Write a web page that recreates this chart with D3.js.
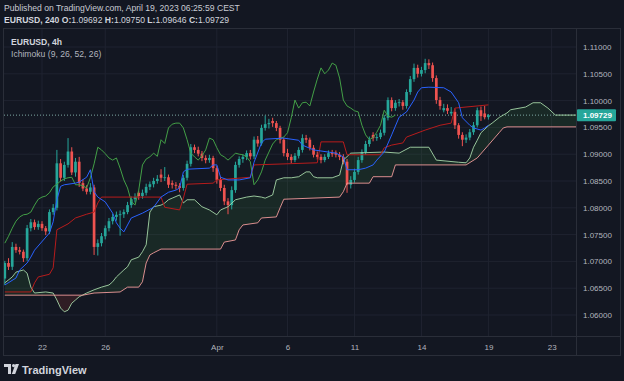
<!DOCTYPE html>
<html><head><meta charset="utf-8">
<script src="https://cdn.jsdelivr.net/npm/d3@7"></script>
<style>
html,body{margin:0;padding:0;background:#131722;overflow:hidden;}
svg{display:block;font-family:"Liberation Sans",Arial,sans-serif;}
</style></head><body>
<svg id="chart" width="624" height="381"></svg>
<script>
// ---------------- DATA ----------------
// 4h candles, index 0 = first visible bar (Mar 20/21), index 130 = Apr 19 03:00
const openP = [1.0668,1.0697,1.0690,1.0727,1.0721,1.0718,1.0706,1.0762,1.0773,1.0764,
1.0770,1.0762,1.0756,1.0792,1.0800,1.0883,1.0856,1.0880,1.0905,1.0866,
1.0886,1.0846,1.0836,1.0830,1.0838,1.0727,1.0734,1.0747,1.0762,1.0775,
1.0783,1.0787,1.0788,1.0792,1.0805,1.0816,1.0828,1.0822,1.0828,1.0839,
1.0844,1.0850,1.0862,1.0856,1.0857,1.0846,1.0843,1.0841,1.0837,1.0856,
1.0882,1.0913,1.0908,1.0901,1.0893,1.0889,1.0893,1.0874,1.0852,1.0837,
1.0812,1.0805,1.0833,1.0880,1.0891,1.0895,1.0902,1.0896,1.0927,1.0920,
1.0949,1.0956,1.0962,1.0958,1.0949,1.0927,1.0902,1.0895,1.0889,1.0897,
1.0908,1.0930,1.0927,1.0912,1.0899,1.0895,1.0889,1.0895,1.0902,1.0903,
1.0899,1.0895,1.0886,1.0843,1.0852,1.0867,1.0889,1.0904,1.0919,1.0936,
1.0930,1.0932,1.0940,1.0968,1.1001,1.0986,1.0996,1.0997,1.0990,1.1016,
1.1040,1.1061,1.1050,1.1057,1.1070,1.1066,1.1042,1.1001,1.0982,1.0986,
1.0976,1.0979,1.0954,1.0936,1.0927,1.0931,1.0941,1.0954,1.0982,1.0976,
1.09692];
const highP = [1.0701,1.0706,1.0736,1.0733,1.0727,1.0722,1.0768,1.0779,1.0778,1.0776,
1.0775,1.0766,1.0797,1.0807,1.0908,1.0891,1.0886,1.0930,1.0913,1.0893,
1.0895,1.0853,1.0842,1.0846,1.0843,1.0741,1.0753,1.0767,1.0781,1.0789,
1.0793,1.0795,1.0797,1.0811,1.0821,1.0827,1.0832,1.0834,1.0845,1.0849,
1.0856,1.0861,1.0872,1.0876,1.0862,1.0851,1.0848,1.0846,1.0861,1.0888,
1.0919,1.0918,1.0914,1.0906,1.0898,1.0899,1.0897,1.0878,1.0857,1.0843,
1.0818,1.0840,1.0886,1.0896,1.0900,1.0907,1.0908,1.0933,1.0934,1.0955,
1.0972,1.0966,1.0968,1.0962,1.0953,1.0931,1.0910,1.0900,1.0902,1.0913,
1.0937,1.0936,1.0931,1.0917,1.0905,1.0900,1.0900,1.0907,1.0908,1.0907,
1.0904,1.0900,1.0891,1.0859,1.0873,1.0895,1.0909,1.0925,1.0933,1.0941,
1.0938,1.0946,1.0973,1.1006,1.1006,1.1001,1.1003,1.1001,1.1021,1.1046,
1.1069,1.1067,1.1063,1.1078,1.1077,1.1071,1.1047,1.1007,1.0994,1.0993,
1.0988,1.0985,1.0958,1.0941,1.0937,1.0947,1.0960,1.0987,1.0989,1.0990,
1.09750];
const lowP = [1.0656,1.0684,1.0684,1.0716,1.0713,1.0699,1.0701,1.0756,1.0759,1.0759,
1.0757,1.0749,1.0751,1.0787,1.0795,1.0849,1.0850,1.0875,1.0861,1.0858,
1.0839,1.0831,1.0825,1.0825,1.0712,1.0711,1.0728,1.0741,1.0756,1.0769,
1.0776,1.0748,1.0781,1.0788,1.0800,1.0810,1.0815,1.0817,1.0823,1.0833,
1.0838,1.0845,1.0848,1.0850,1.0837,1.0836,1.0834,1.0829,1.0832,1.0851,
1.0877,1.0902,1.0896,1.0887,1.0883,1.0884,1.0867,1.0845,1.0831,1.0805,
1.0788,1.0797,1.0828,1.0875,1.0884,1.0889,1.0890,1.0891,1.0914,1.0916,
1.0944,1.0948,1.0951,1.0943,1.0920,1.0896,1.0889,1.0883,1.0885,1.0892,
1.0903,1.0921,1.0907,1.0894,1.0890,1.0883,1.0885,1.0891,1.0895,1.0894,
1.0889,1.0881,1.0828,1.0836,1.0847,1.0862,1.0884,1.0899,1.0914,1.0924,
1.0925,1.0928,1.0935,1.0963,1.0980,1.0981,1.0989,1.0983,1.0985,1.1011,
1.1035,1.1043,1.1045,1.1051,1.1059,1.1035,1.0994,1.0983,1.0978,1.0975,
1.0972,1.0947,1.0929,1.0915,1.0921,1.0926,1.0936,1.0950,1.0962,1.0965,
1.09646];
const closeP = [1.0697,1.0690,1.0727,1.0721,1.0718,1.0706,1.0762,1.0773,1.0764,1.0770,
1.0762,1.0756,1.0792,1.0800,1.0883,1.0856,1.0880,1.0905,1.0866,1.0886,
1.0846,1.0836,1.0830,1.0838,1.0727,1.0734,1.0747,1.0762,1.0775,1.0783,
1.0787,1.0788,1.0792,1.0805,1.0816,1.0820,1.0822,1.0828,1.0839,1.0844,
1.0850,1.0854,1.0856,1.0857,1.0843,1.0843,1.0841,1.0837,1.0856,1.0882,
1.0913,1.0908,1.0901,1.0893,1.0889,1.0893,1.0874,1.0852,1.0837,1.0812,
1.0805,1.0833,1.0880,1.0891,1.0895,1.0902,1.0896,1.0927,1.0920,1.0949,
1.0956,1.0958,1.0958,1.0949,1.0927,1.0902,1.0895,1.0889,1.0897,1.0908,
1.0930,1.0927,1.0912,1.0899,1.0895,1.0889,1.0895,1.0902,1.0900,1.0899,
1.0895,1.0886,1.0843,1.0852,1.0867,1.0889,1.0904,1.0919,1.0927,1.0930,
1.0932,1.0940,1.0968,1.1001,1.0986,1.0996,1.0997,1.0990,1.1016,1.1040,
1.1061,1.1050,1.1057,1.1070,1.1066,1.1042,1.1001,1.0990,1.0986,1.0981,
1.0979,1.0954,1.0936,1.0927,1.0931,1.0941,1.0954,1.0982,1.0971,1.0969,
1.09729];

// Ichimoku lines: [bar index, price]
const tenkanPts = [[0,1.0656],[3,1.0669],[4,1.0684],[6,1.0697],[7,1.0708],[8,1.0721],[12,1.0753],[13,1.0774],[14,1.0815],[15,1.0840],[16,1.0843],[19,1.0846],[20,1.0848],[22,1.0857],[23,1.0871],[24,1.0830],[25,1.0820],[27,1.0811],[29,1.0790],[30,1.0772],[31,1.0762],[32,1.0755],[34,1.0781],[37,1.0790],[40,1.0801],[42,1.0820],[44,1.0829],[46,1.0833],[47,1.0837],[48,1.0867],[49,1.0872],[55,1.0874],[56,1.0880],[57,1.0880],[58,1.0857],[60,1.0852],[63,1.0852],[66,1.0856],[67,1.0885],[69,1.0921],[70,1.0928],[75,1.0930],[79,1.0926],[80,1.0917],[83,1.0908],[89,1.0902],[91,1.0895],[92,1.0871],[95,1.0871],[97,1.0874],[99,1.0880],[100,1.0889],[102,1.0904],[104,1.0936],[106,1.0969],[108,1.0979],[110,1.1001],[111,1.1016],[112,1.1024],[114,1.1025],[118,1.1024],[120,1.1016],[122,1.0996],[123,1.0968],[125,1.0954],[126,1.0949],[128,1.0945],[129,1.0949],[130,1.0954]];
const kijunPts = [[0,1.0643],[7,1.0643],[8,1.0660],[9,1.0671],[12,1.0676],[13,1.0688],[14,1.0759],[17,1.0770],[19,1.0781],[22,1.0788],[24,1.0792],[25,1.0809],[26,1.0820],[42,1.0820],[43,1.0801],[47,1.0796],[48,1.0818],[49,1.0844],[56,1.0846],[57,1.0852],[66,1.0857],[67,1.0880],[84,1.0884],[85,1.0923],[91,1.0923],[92,1.0899],[101,1.0899],[102,1.0912],[104,1.0917],[107,1.0921],[108,1.0932],[113,1.0945],[117,1.0954],[120,1.0958],[121,1.0986],[130,1.0992]];
const spanAPts = [[0,1.0660],[2,1.0671],[3,1.0680],[5,1.0684],[6,1.0678],[7,1.0652],[8,1.0641],[11,1.0643],[13,1.0641],[14,1.0628],[15,1.0613],[16,1.0606],[17,1.0609],[18,1.0622],[19,1.0628],[20,1.0634],[22,1.0641],[24,1.0647],[26,1.0652],[28,1.0656],[29,1.0662],[30,1.0671],[32,1.0684],[33,1.0690],[34,1.0703],[36,1.0708],[37,1.0718],[38,1.0731],[39,1.0792],[40,1.0802],[42,1.0805],[43,1.0809],[44,1.0815],[45,1.0818],[47,1.0824],[48,1.0809],[49,1.0815],[51,1.0815],[53,1.0802],[55,1.0796],[57,1.0787],[58,1.0796],[60,1.0802],[62,1.0815],[65,1.0820],[67,1.0822],[69,1.0820],[70,1.0818],[72,1.0824],[73,1.0852],[75,1.0856],[77,1.0856],[79,1.0858],[81,1.0867],[82,1.0867],[83,1.0858],[84,1.0856],[88,1.0856],[90,1.0861],[91,1.0889],[93,1.0902],[102,1.0904],[106,1.0902],[109,1.0913],[114,1.0913],[116,1.0889],[122,1.0885],[124,1.0884],[125,1.0893],[126,1.0913],[127,1.0926],[128,1.0940],[130,1.0953],[131,1.0958],[133,1.0969],[135,1.0977],[136,1.0983],[140,1.0988],[142,1.0996],[144,1.0996],[146,1.0986],[148,1.0973],[155,1.0973]];
const spanBPts = [[0,1.0637],[21,1.0637],[24,1.0641],[31,1.0643],[33,1.0652],[36,1.0652],[37,1.0662],[38,1.0697],[39,1.0712],[40,1.0716],[42,1.0723],[58,1.0723],[59,1.0736],[62,1.0740],[63,1.0759],[64,1.0768],[68,1.0772],[69,1.0781],[73,1.0783],[74,1.0800],[75,1.0816],[90,1.0820],[91,1.0830],[92,1.0846],[98,1.0846],[99,1.0858],[104,1.0858],[105,1.0880],[124,1.0880],[127,1.0893],[130,1.0917],[133,1.0941],[134,1.0949],[135,1.0951],[155,1.0951]];
const lagOffset = 25;

const priceTicks = [1.06,1.065,1.07,1.075,1.08,1.085,1.09,1.095,1.10,1.105,1.11];
const timeTickIdx = [10,27,57,76,94,112,130,147];
const timeTickLabels = ["22","26","Apr","6","11","14","19","23"];
const lastPrice = 1.09729;

// ---------------- DRAWING ----------------
const UP="#26a69a", DOWN="#ef5350";
const P={left:4,right:576,top:29,bottom:336};
const svg=d3.select("#chart");
svg.append("rect").attr("width",624).attr("height",381).attr("fill","#131722");

const x=d3.scaleLinear().domain([0,155]).range([4.8,4.8+3.72*155]);
const y=d3.scaleLinear().domain([1.06,1.11]).range([315,47]);

const defs=svg.append("defs");
defs.append("clipPath").attr("id","plotClip").append("rect")
  .attr("x",P.left).attr("y",P.top).attr("width",P.right-P.left).attr("height",P.bottom-P.top);
const areaDown=d3.area().x(d=>x(d[0])).y0(P.bottom+50).y1(d=>y(d[1]));
const areaUp=d3.area().x(d=>x(d[0])).y0(P.top-50).y1(d=>y(d[1]));
defs.append("clipPath").attr("id","aboveB").append("path").attr("d",areaUp(spanBPts));
defs.append("clipPath").attr("id","aboveA").append("path").attr("d",areaUp(spanAPts));

// grid
const grid=svg.append("g");
grid.selectAll(".hg").data(priceTicks).join("line")
  .attr("x1",P.left).attr("x2",P.right).attr("y1",d=>y(d)).attr("y2",d=>y(d))
  .attr("stroke","#1f2330").attr("stroke-width",1);
grid.selectAll(".vg").data(timeTickIdx).join("line")
  .attr("x1",d=>x(d)).attr("x2",d=>x(d)).attr("y1",P.top).attr("y2",P.bottom)
  .attr("stroke","#1f2330").attr("stroke-width",1);

const plot=svg.append("g").attr("clip-path","url(#plotClip)");
// cloud
plot.append("g").attr("clip-path","url(#aboveB)").append("path")
  .attr("d",areaDown(spanAPts)).attr("fill","rgba(67,160,71,0.13)");
plot.append("g").attr("clip-path","url(#aboveA)").append("path")
  .attr("d",areaDown(spanBPts)).attr("fill","rgba(244,67,54,0.13)");

// last price dotted line
plot.append("line").attr("x1",P.left).attr("x2",P.right)
  .attr("y1",y(lastPrice)).attr("y2",y(lastPrice))
  .attr("stroke","#7fa9a4").attr("stroke-width",1).attr("stroke-dasharray","1,2");

// candles
const candles=closeP.map((c,i)=>({i,o:openP[i],h:highP[i],l:lowP[i],c}));
const gc=plot.append("g");
gc.selectAll("line").data(candles).join("line")
  .attr("x1",d=>x(d.i)).attr("x2",d=>x(d.i))
  .attr("y1",d=>y(d.h)).attr("y2",d=>y(d.l))
  .attr("stroke",d=>d.c>=d.o?UP:DOWN).attr("stroke-width",1);
gc.selectAll("rect").data(candles).join("rect")
  .attr("x",d=>x(d.i)-1.35).attr("width",2.7)
  .attr("y",d=>y(Math.max(d.o,d.c)))
  .attr("height",d=>Math.max(0.9,Math.abs(y(d.o)-y(d.c))))
  .attr("fill",d=>d.c>=d.o?UP:DOWN);

// ichimoku lines
const line=d3.line().x(d=>x(d[0])).y(d=>y(d[1]));
const chikou=closeP.slice(lagOffset).map((v,i)=>[i,v]);
[[spanAPts,"#a5d6a7",0.9],[spanBPts,"#ef9a9a",0.9],[chikou,"#43a047",1],[kijunPts,"#b71c1c",1],[tenkanPts,"#2962ff",1]]
 .forEach(([pts,col,op])=>{
   plot.append("path").attr("d",line(pts)).attr("fill","none")
     .attr("stroke",col).attr("stroke-opacity",op).attr("stroke-width",1).attr("stroke-linejoin","round");
 });

// frame / separators
const fr=svg.append("g").attr("stroke","#2a2e39").attr("stroke-width",1).attr("fill","none");
fr.append("rect").attr("x",3.5).attr("y",28.5).attr("width",617).attr("height",327);
fr.append("line").attr("x1",3.5).attr("x2",620.5).attr("y1",336.5).attr("y2",336.5);
fr.append("line").attr("x1",576.5).attr("x2",576.5).attr("y1",28.5).attr("y2",355.5);

// axes
const ya=svg.append("g").attr("transform","translate(583,0)")
  .call(d3.axisRight(y).tickValues(priceTicks).tickFormat(d3.format(".5f")).tickSize(0).tickPadding(0));
ya.select(".domain").remove();
ya.selectAll("text").attr("fill","#b2b5be").attr("font-size","8px").attr("font-family","Liberation Sans, Arial, sans-serif");

const xa=svg.append("g").attr("transform",`translate(0,${P.bottom})`)
  .call(d3.axisBottom(x).tickValues(timeTickIdx).tickFormat((d,i)=>timeTickLabels[i]).tickSize(0).tickPadding(8));
xa.select(".domain").remove();
xa.selectAll("text").attr("fill","#b2b5be").attr("font-size","8px").attr("font-family","Liberation Sans, Arial, sans-serif");

// last price label
svg.append("rect").attr("x",577).attr("y",y(lastPrice)-6).attr("width",39).attr("height",12)
  .attr("fill",UP).attr("rx",1);
svg.append("text").attr("x",583).attr("y",y(lastPrice)).attr("dy","0.34em")
  .attr("fill","#ffffff").attr("font-size","8px").attr("font-weight","bold").text(d3.format(".5f")(lastPrice));

// header
svg.append("text").attr("x",4).attr("y",11).attr("fill","#c9ccd4").attr("font-size","8.6px")
  .text("Published on TradingView.com, April 19, 2023 06:25:59 CEST");
const h2=svg.append("text").attr("x",4).attr("y",23).attr("fill","#d1d4dc").attr("font-size","8.6px");
[["EURUSD, 240 ",true],["O:",true],["1.09692 ",false],["H:",true],["1.09750 ",false],["L:",true],["1.09646 ",false],["C:",true],["1.09729",false]]
 .forEach(([t,b])=>h2.append("tspan").attr("font-weight",b?"bold":"normal").text(t));

// legend
svg.append("text").attr("x",11).attr("y",45).attr("fill","#d1d4dc").attr("font-size","8.6px").attr("font-weight","bold").text("EURUSD, 4h");
svg.append("text").attr("x",11).attr("y",57).attr("fill","#b2b5be").attr("font-size","8.6px").text("Ichimoku (9, 26, 52, 26)");

// TradingView logo
const lg=svg.append("g").attr("fill","#d1d4dc");
lg.append("path").attr("d","M4,364 H11 V374 H8 V367 H4 Z");
lg.append("circle").attr("cx",13.6).attr("cy",365.6).attr("r",1.6);
lg.append("path").attr("d","M15.5,364 H19 L15.2,374 H11.8 Z");
svg.append("text").attr("x",22).attr("y",374).attr("fill","#d1d4dc").attr("font-size","11px")
  .attr("font-weight","bold").text("TradingView");
</script>
</body></html>
